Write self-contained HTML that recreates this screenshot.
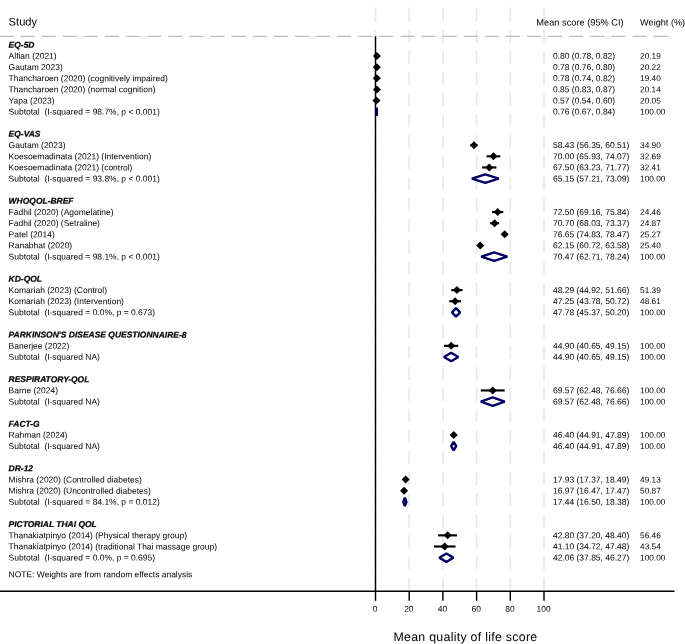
<!DOCTYPE html>
<html><head><meta charset="utf-8"><title>Forest plot</title>
<style>
html,body{margin:0;padding:0;background:#fff;}
body{width:685px;height:644px;overflow:hidden;}
svg{display:block;will-change:transform;}
text{font-family:"Liberation Sans",sans-serif;fill:#000;}
.b{font-size:8.47px;}
.h{font-size:8.47px;font-weight:bold;font-style:italic;stroke:#000;stroke-width:0.22px;}
</style></head><body>
<svg width="685" height="644" viewBox="0 0 685 644">
<rect x="0" y="0" width="685" height="644" fill="#ffffff"/>

<g stroke="#ebebeb" stroke-width="1.9" stroke-dasharray="13.5 7.57" fill="none">
<line x1="375.50" y1="590.75" x2="375.50" y2="-20"/>
<line x1="409.20" y1="590.75" x2="409.20" y2="-20"/>
<line x1="442.90" y1="590.75" x2="442.90" y2="-20"/>
<line x1="476.60" y1="590.75" x2="476.60" y2="-20"/>
<line x1="510.30" y1="590.75" x2="510.30" y2="-20"/>
<line x1="544.00" y1="590.75" x2="544.00" y2="-20"/>
</g>
<line x1="-21.6" y1="36.3" x2="670" y2="36.3" stroke="#bcbcbc" stroke-width="1.2" stroke-dasharray="14.1 7"/>
<g stroke="#000" stroke-width="1.45" fill="none">
<line x1="0" y1="591.30" x2="674.5" y2="591.30"/>
<line x1="375.50" y1="36.3" x2="375.50" y2="591.30"/>
<line x1="375.50" y1="591.30" x2="375.50" y2="600.80"/>
<line x1="409.20" y1="591.30" x2="409.20" y2="600.80"/>
<line x1="442.90" y1="591.30" x2="442.90" y2="600.80"/>
<line x1="476.60" y1="591.30" x2="476.60" y2="600.80"/>
<line x1="510.30" y1="591.30" x2="510.30" y2="600.80"/>
<line x1="544.00" y1="591.30" x2="544.00" y2="600.80"/>
</g>
<text transform="translate(375.15 611.80) skewY(0.05)" class="b" text-anchor="middle">0</text>
<text transform="translate(408.85 611.80) skewY(0.05)" class="b" text-anchor="middle">20</text>
<text transform="translate(442.55 611.80) skewY(0.05)" class="b" text-anchor="middle">40</text>
<text transform="translate(476.25 611.80) skewY(0.05)" class="b" text-anchor="middle">60</text>
<text transform="translate(509.95 611.80) skewY(0.05)" class="b" text-anchor="middle">80</text>
<text transform="translate(543.65 611.80) skewY(0.05)" class="b" text-anchor="middle">100</text>
<text transform="translate(8.60 25.40) skewY(0.05)" font-size="11.15px">Study</text>
<text transform="translate(536.30 25.40) skewY(0.05)" font-size="9.25px">Mean score (95% CI)</text>
<text transform="translate(640.10 25.40) skewY(0.05)" font-size="9.15px">Weight (%)</text>
<text transform="translate(393.40 641.00) skewY(0.05)" font-size="12.35px" textLength="143.8" lengthAdjust="spacing">Mean quality of life score</text>
<text transform="translate(8.60 47.65) skewY(0.05)" class="h">EQ-5D</text>
<text transform="translate(8.60 58.80) skewY(0.05)" class="b">Alfian (2021)</text>
<text transform="translate(553.00 58.80) skewY(0.05)" class="b">0.80 (0.78, 0.82)</text>
<text transform="translate(640.10 58.80) skewY(0.05)" font-size="8.25px">20.19</text>
<line x1="376.81" y1="56.00" x2="376.88" y2="56.00" stroke="#000" stroke-width="2.15"/>
<path d="M372.85 56.00L376.85 52.00L380.85 56.00L376.85 60.00Z" fill="#000"/>
<text transform="translate(8.60 69.95) skewY(0.05)" class="b">Gautam 2023)</text>
<text transform="translate(553.00 69.95) skewY(0.05)" class="b">0.78 (0.76, 0.80)</text>
<text transform="translate(640.10 69.95) skewY(0.05)" font-size="8.25px">20.22</text>
<line x1="376.78" y1="67.15" x2="376.85" y2="67.15" stroke="#000" stroke-width="2.15"/>
<path d="M372.81 67.15L376.81 63.15L380.81 67.15L376.81 71.15Z" fill="#000"/>
<text transform="translate(8.60 81.09) skewY(0.05)" class="b">Thancharoen (2020) (cognitively impaired)</text>
<text transform="translate(553.00 81.09) skewY(0.05)" class="b">0.78 (0.74, 0.82)</text>
<text transform="translate(640.10 81.09) skewY(0.05)" font-size="8.25px">19.40</text>
<line x1="376.75" y1="78.29" x2="376.88" y2="78.29" stroke="#000" stroke-width="2.15"/>
<path d="M372.81 78.29L376.81 74.29L380.81 78.29L376.81 82.29Z" fill="#000"/>
<text transform="translate(8.60 92.24) skewY(0.05)" class="b">Thancharoen (2020) (normal cognition)</text>
<text transform="translate(553.00 92.24) skewY(0.05)" class="b">0.85 (0.83, 0.87)</text>
<text transform="translate(640.10 92.24) skewY(0.05)" font-size="8.25px">20.14</text>
<line x1="376.90" y1="89.44" x2="376.97" y2="89.44" stroke="#000" stroke-width="2.15"/>
<path d="M372.93 89.44L376.93 85.44L380.93 89.44L376.93 93.44Z" fill="#000"/>
<text transform="translate(8.60 103.39) skewY(0.05)" class="b">Yapa (2023)</text>
<text transform="translate(553.00 103.39) skewY(0.05)" class="b">0.57 (0.54, 0.60)</text>
<text transform="translate(640.10 103.39) skewY(0.05)" font-size="8.25px">20.05</text>
<line x1="376.41" y1="100.59" x2="376.51" y2="100.59" stroke="#000" stroke-width="2.15"/>
<path d="M372.46 100.59L376.46 96.59L380.46 100.59L376.46 104.59Z" fill="#000"/>
<text transform="translate(8.60 114.54) skewY(0.05)" class="b">Subtotal &#160;(I-squared = 98.7%, p &lt; 0.001)</text>
<text transform="translate(553.00 114.54) skewY(0.05)" class="b">0.76 (0.67, 0.84)</text>
<text transform="translate(640.10 114.54) skewY(0.05)" font-size="8.25px">100.00</text>
<path d="M376.63 111.74L376.78 107.54L376.92 111.74L376.78 115.94Z" fill="none" stroke="#000066" stroke-width="2.4" stroke-linejoin="bevel"/>
<text transform="translate(8.60 136.83) skewY(0.05)" class="h">EQ-VAS</text>
<text transform="translate(8.60 147.98) skewY(0.05)" class="b">Gautam (2023)</text>
<text transform="translate(553.00 147.98) skewY(0.05)" class="b">58.43 (56.35, 60.51)</text>
<text transform="translate(640.10 147.98) skewY(0.05)" font-size="8.25px">34.90</text>
<line x1="470.45" y1="145.18" x2="477.46" y2="145.18" stroke="#000" stroke-width="2.15"/>
<path d="M469.95 145.18L473.95 141.18L477.95 145.18L473.95 149.18Z" fill="#000"/>
<text transform="translate(8.60 159.13) skewY(0.05)" class="b">Koesoemadinata (2021) (Intervention)</text>
<text transform="translate(553.00 159.13) skewY(0.05)" class="b">70.00 (65.93, 74.07)</text>
<text transform="translate(640.10 159.13) skewY(0.05)" font-size="8.25px">32.69</text>
<line x1="486.59" y1="156.33" x2="500.31" y2="156.33" stroke="#000" stroke-width="2.15"/>
<path d="M489.45 156.33L493.45 152.33L497.45 156.33L493.45 160.33Z" fill="#000"/>
<text transform="translate(8.60 170.28) skewY(0.05)" class="b">Koesoemadinata (2021) (control)</text>
<text transform="translate(553.00 170.28) skewY(0.05)" class="b">67.50 (63.23, 71.77)</text>
<text transform="translate(640.10 170.28) skewY(0.05)" font-size="8.25px">32.41</text>
<line x1="482.04" y1="167.48" x2="496.43" y2="167.48" stroke="#000" stroke-width="2.15"/>
<path d="M485.24 167.48L489.24 163.48L493.24 167.48L489.24 171.48Z" fill="#000"/>
<text transform="translate(8.60 181.43) skewY(0.05)" class="b">Subtotal &#160;(I-squared = 93.8%, p &lt; 0.001)</text>
<text transform="translate(553.00 181.43) skewY(0.05)" class="b">65.15 (57.21, 73.09)</text>
<text transform="translate(640.10 181.43) skewY(0.05)" font-size="8.25px">100.00</text>
<path d="M471.90 178.63L485.28 174.43L498.66 178.63L485.28 182.83Z" fill="none" stroke="#000066" stroke-width="2.4" stroke-linejoin="bevel"/>
<text transform="translate(8.60 203.72) skewY(0.05)" class="h">WHOQOL-BREF</text>
<text transform="translate(8.60 214.87) skewY(0.05)" class="b">Fadhil (2020) (Agomelatine)</text>
<text transform="translate(553.00 214.87) skewY(0.05)" class="b">72.50 (69.16, 75.84)</text>
<text transform="translate(640.10 214.87) skewY(0.05)" font-size="8.25px">24.46</text>
<line x1="492.03" y1="212.07" x2="503.29" y2="212.07" stroke="#000" stroke-width="2.15"/>
<path d="M493.66 212.07L497.66 208.07L501.66 212.07L497.66 216.07Z" fill="#000"/>
<text transform="translate(8.60 226.02) skewY(0.05)" class="b">Fadhil (2020) (Setraline)</text>
<text transform="translate(553.00 226.02) skewY(0.05)" class="b">70.70 (68.03, 73.37)</text>
<text transform="translate(640.10 226.02) skewY(0.05)" font-size="8.25px">24.87</text>
<line x1="490.13" y1="223.22" x2="499.13" y2="223.22" stroke="#000" stroke-width="2.15"/>
<path d="M490.63 223.22L494.63 219.22L498.63 223.22L494.63 227.22Z" fill="#000"/>
<text transform="translate(8.60 237.17) skewY(0.05)" class="b">Patel (2014)</text>
<text transform="translate(553.00 237.17) skewY(0.05)" class="b">76.65 (74.83, 78.47)</text>
<text transform="translate(640.10 237.17) skewY(0.05)" font-size="8.25px">25.27</text>
<line x1="501.59" y1="234.37" x2="507.72" y2="234.37" stroke="#000" stroke-width="2.15"/>
<path d="M500.66 234.37L504.66 230.37L508.66 234.37L504.66 238.37Z" fill="#000"/>
<text transform="translate(8.60 248.31) skewY(0.05)" class="b">Ranabhat (2020)</text>
<text transform="translate(553.00 248.31) skewY(0.05)" class="b">62.15 (60.72, 63.58)</text>
<text transform="translate(640.10 248.31) skewY(0.05)" font-size="8.25px">25.40</text>
<line x1="477.81" y1="245.51" x2="482.63" y2="245.51" stroke="#000" stroke-width="2.15"/>
<path d="M476.22 245.51L480.22 241.51L484.22 245.51L480.22 249.51Z" fill="#000"/>
<text transform="translate(8.60 259.46) skewY(0.05)" class="b">Subtotal &#160;(I-squared = 98.1%, p &lt; 0.001)</text>
<text transform="translate(553.00 259.46) skewY(0.05)" class="b">70.47 (62.71, 78.24)</text>
<text transform="translate(640.10 259.46) skewY(0.05)" font-size="8.25px">100.00</text>
<path d="M481.17 256.66L494.24 252.46L507.33 256.66L494.24 260.86Z" fill="none" stroke="#000066" stroke-width="2.4" stroke-linejoin="bevel"/>
<text transform="translate(8.60 281.76) skewY(0.05)" class="h">KD-QOL</text>
<text transform="translate(8.60 292.91) skewY(0.05)" class="b">Komariah (2023) (Control)</text>
<text transform="translate(553.00 292.91) skewY(0.05)" class="b">48.29 (44.92, 51.66)</text>
<text transform="translate(640.10 292.91) skewY(0.05)" font-size="8.25px">51.39</text>
<line x1="451.19" y1="290.11" x2="462.55" y2="290.11" stroke="#000" stroke-width="2.15"/>
<path d="M452.87 290.11L456.87 286.11L460.87 290.11L456.87 294.11Z" fill="#000"/>
<text transform="translate(8.60 304.05) skewY(0.05)" class="b">Komariah (2023) (Intervention)</text>
<text transform="translate(553.00 304.05) skewY(0.05)" class="b">47.25 (43.78, 50.72)</text>
<text transform="translate(640.10 304.05) skewY(0.05)" font-size="8.25px">48.61</text>
<line x1="449.27" y1="301.25" x2="460.96" y2="301.25" stroke="#000" stroke-width="2.15"/>
<path d="M451.12 301.25L455.12 297.25L459.12 301.25L455.12 305.25Z" fill="#000"/>
<text transform="translate(8.60 315.20) skewY(0.05)" class="b">Subtotal &#160;(I-squared = 0.0%, p = 0.673)</text>
<text transform="translate(553.00 315.20) skewY(0.05)" class="b">47.78 (45.37, 50.20)</text>
<text transform="translate(640.10 315.20) skewY(0.05)" font-size="8.25px">100.00</text>
<path d="M451.95 312.40L456.01 308.20L460.09 312.40L456.01 316.60Z" fill="none" stroke="#000066" stroke-width="2.4" stroke-linejoin="bevel"/>
<text transform="translate(8.60 337.50) skewY(0.05)" class="h">PARKINSON'S DISEASE QUESTIONNAIRE-8</text>
<text transform="translate(8.60 348.65) skewY(0.05)" class="b">Banerjee (2022)</text>
<text transform="translate(553.00 348.65) skewY(0.05)" class="b">44.90 (40.65, 49.15)</text>
<text transform="translate(640.10 348.65) skewY(0.05)" font-size="8.25px">100.00</text>
<line x1="444.00" y1="345.85" x2="458.32" y2="345.85" stroke="#000" stroke-width="2.15"/>
<path d="M447.16 345.85L451.16 341.85L455.16 345.85L451.16 349.85Z" fill="#000"/>
<text transform="translate(8.60 359.79) skewY(0.05)" class="b">Subtotal &#160;(I-squared NA)</text>
<text transform="translate(553.00 359.79) skewY(0.05)" class="b">44.90 (40.65, 49.15)</text>
<text transform="translate(640.10 359.79) skewY(0.05)" font-size="8.25px">100.00</text>
<path d="M444.00 356.99L451.16 352.79L458.32 356.99L451.16 361.19Z" fill="none" stroke="#000066" stroke-width="2.4" stroke-linejoin="bevel"/>
<text transform="translate(8.60 382.09) skewY(0.05)" class="h">RESPIRATORY-QOL</text>
<text transform="translate(8.60 393.24) skewY(0.05)" class="b">Barne (2024)</text>
<text transform="translate(553.00 393.24) skewY(0.05)" class="b">69.57 (62.48, 76.66)</text>
<text transform="translate(640.10 393.24) skewY(0.05)" font-size="8.25px">100.00</text>
<line x1="480.78" y1="390.44" x2="504.67" y2="390.44" stroke="#000" stroke-width="2.15"/>
<path d="M488.73 390.44L492.73 386.44L496.73 390.44L492.73 394.44Z" fill="#000"/>
<text transform="translate(8.60 404.39) skewY(0.05)" class="b">Subtotal &#160;(I-squared NA)</text>
<text transform="translate(553.00 404.39) skewY(0.05)" class="b">69.57 (62.48, 76.66)</text>
<text transform="translate(640.10 404.39) skewY(0.05)" font-size="8.25px">100.00</text>
<path d="M480.78 401.59L492.73 397.39L504.67 401.59L492.73 405.79Z" fill="none" stroke="#000066" stroke-width="2.4" stroke-linejoin="bevel"/>
<text transform="translate(8.60 426.68) skewY(0.05)" class="h">FACT-G</text>
<text transform="translate(8.60 437.83) skewY(0.05)" class="b">Rahman (2024)</text>
<text transform="translate(553.00 437.83) skewY(0.05)" class="b">46.40 (44.91, 47.89)</text>
<text transform="translate(640.10 437.83) skewY(0.05)" font-size="8.25px">100.00</text>
<line x1="451.17" y1="435.03" x2="456.19" y2="435.03" stroke="#000" stroke-width="2.15"/>
<path d="M449.68 435.03L453.68 431.03L457.68 435.03L453.68 439.03Z" fill="#000"/>
<text transform="translate(8.60 448.98) skewY(0.05)" class="b">Subtotal &#160;(I-squared NA)</text>
<text transform="translate(553.00 448.98) skewY(0.05)" class="b">46.40 (44.91, 47.89)</text>
<text transform="translate(640.10 448.98) skewY(0.05)" font-size="8.25px">100.00</text>
<path d="M451.17 446.18L453.68 441.98L456.19 446.18L453.68 450.38Z" fill="none" stroke="#000066" stroke-width="2.4" stroke-linejoin="bevel"/>
<text transform="translate(8.60 471.27) skewY(0.05)" class="h">DR-12</text>
<text transform="translate(8.60 482.42) skewY(0.05)" class="b">Mishra (2020) (Controlled diabetes)</text>
<text transform="translate(553.00 482.42) skewY(0.05)" class="b">17.93 (17.37, 18.49)</text>
<text transform="translate(640.10 482.42) skewY(0.05)" font-size="8.25px">49.13</text>
<line x1="404.77" y1="479.62" x2="406.66" y2="479.62" stroke="#000" stroke-width="2.15"/>
<path d="M401.71 479.62L405.71 475.62L409.71 479.62L405.71 483.62Z" fill="#000"/>
<text transform="translate(8.60 493.57) skewY(0.05)" class="b">Mishra (2020) (Uncontrolled diabetes)</text>
<text transform="translate(553.00 493.57) skewY(0.05)" class="b">16.97 (16.47, 17.47)</text>
<text transform="translate(640.10 493.57) skewY(0.05)" font-size="8.25px">50.87</text>
<line x1="403.25" y1="490.77" x2="404.94" y2="490.77" stroke="#000" stroke-width="2.15"/>
<path d="M400.09 490.77L404.09 486.77L408.09 490.77L404.09 494.77Z" fill="#000"/>
<text transform="translate(8.60 504.72) skewY(0.05)" class="b">Subtotal &#160;(I-squared = 84.1%, p = 0.012)</text>
<text transform="translate(553.00 504.72) skewY(0.05)" class="b">17.44 (16.50, 18.38)</text>
<text transform="translate(640.10 504.72) skewY(0.05)" font-size="8.25px">100.00</text>
<path d="M403.30 501.92L404.89 497.72L406.47 501.92L404.89 506.12Z" fill="none" stroke="#000066" stroke-width="2.4" stroke-linejoin="bevel"/>
<text transform="translate(8.60 527.01) skewY(0.05)" class="h">PICTORIAL THAI QOL</text>
<text transform="translate(8.60 538.16) skewY(0.05)" class="b">Thanakiatpinyo (2014) (Physical therapy group)</text>
<text transform="translate(553.00 538.16) skewY(0.05)" class="b">42.80 (37.20, 48.40)</text>
<text transform="translate(640.10 538.16) skewY(0.05)" font-size="8.25px">56.46</text>
<line x1="438.18" y1="535.36" x2="457.05" y2="535.36" stroke="#000" stroke-width="2.15"/>
<path d="M443.62 535.36L447.62 531.36L451.62 535.36L447.62 539.36Z" fill="#000"/>
<text transform="translate(8.60 549.31) skewY(0.05)" class="b">Thanakiatpinyo (2014) (traditional Thai massage group)</text>
<text transform="translate(553.00 549.31) skewY(0.05)" class="b">41.10 (34.72, 47.48)</text>
<text transform="translate(640.10 549.31) skewY(0.05)" font-size="8.25px">43.54</text>
<line x1="434.00" y1="546.51" x2="455.50" y2="546.51" stroke="#000" stroke-width="2.15"/>
<path d="M440.75 546.51L444.75 542.51L448.75 546.51L444.75 550.51Z" fill="#000"/>
<text transform="translate(8.60 560.46) skewY(0.05)" class="b">Subtotal &#160;(I-squared = 0.0%, p = 0.695)</text>
<text transform="translate(553.00 560.46) skewY(0.05)" class="b">42.06 (37.85, 46.27)</text>
<text transform="translate(640.10 560.46) skewY(0.05)" font-size="8.25px">100.00</text>
<path d="M439.28 557.66L446.37 553.46L453.46 557.66L446.37 561.86Z" fill="none" stroke="#000066" stroke-width="2.4" stroke-linejoin="bevel"/>
<text transform="translate(8.60 577.18) skewY(0.05)" class="b">NOTE: Weights are from random effects analysis</text>
</svg></body></html>
